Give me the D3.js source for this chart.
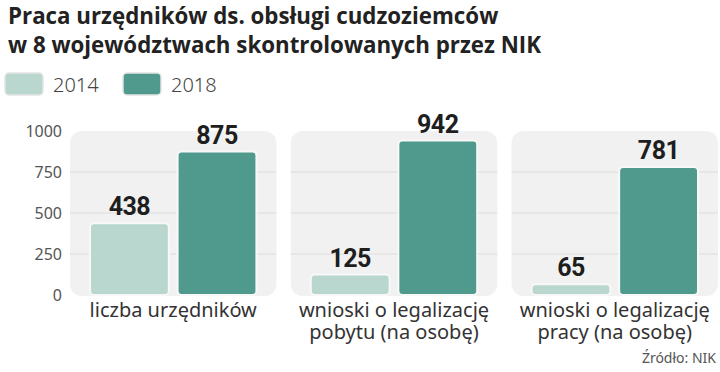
<!DOCTYPE html>
<html lang="pl">
<head>
<meta charset="utf-8">
<title>Praca urzędników</title>
<script src="https://d3js.org/d3.v7.min.js"></script>
<style>
  body { margin: 0; background: #fff; }
  svg { display: block; }
  .title { font-family: "Open Sans", sans-serif; font-weight: 700; font-size: 22.3px; fill: #222; }
  .lab { font-family: "Noto Sans", sans-serif; font-size: 20px; fill: #333; }
  .leg { font-family: "Noto Sans", sans-serif; font-weight: 300; font-size: 20px; fill: #444; }
  .tick { font-family: "Noto Sans", sans-serif; font-size: 16px; fill: #555; }
  .val { font-family: Roboto, sans-serif; font-weight: 700; font-size: 25px; letter-spacing: -0.5px; fill: #1e1e1e; }
</style>
</head>
<body>
<svg id="chart" width="720" height="372"></svg>
<script>
// data
var categories = [["liczba urzędników"], ["wnioski o legalizację", "pobytu (na osobę)"], ["wnioski o legalizację", "pracy (na osobę)"]];
var years = ["2014", "2018"];
var values2014 = [438, 125, 65];
var values2018 = [875, 942, 781];
var yTicks = [0, 250, 500, 750, 1000];
var colors = ["#b9d7cf", "#4f9a8c"];

var svg = d3.select("#chart");

// title
svg.append("text").attr("class", "title").attr("x", 8).attr("y", 24)
  .text("Praca urzędników ds. obsługi cudzoziemców");
svg.append("text").attr("class", "title").attr("x", 8).attr("y", 53)
  .text("w 8 województwach skontrolowanych przez NIK");

// legend
var legX = [5, 123];
years.forEach(function(yr, i) {
  svg.append("rect").attr("x", legX[i]).attr("y", 73).attr("width", 38).attr("height", 22)
    .attr("rx", 4).attr("fill", colors[i]).attr("stroke", "#e4e4e4").attr("stroke-width", 1.5);
  svg.append("text").attr("class", "leg").attr("x", legX[i] + 48).attr("y", 92).text(yr);
});

// scales
var idx = d3.range(categories.length);
var x0 = d3.scaleBand().domain(idx).range([70, 718]).paddingInner(0.065);
var y = d3.scaleLinear().domain([0, 1000]).range([295, 131]);
var x1 = d3.scaleBand().domain(years).range([20, x0.bandwidth() - 20]).paddingInner(0.1);

// y axis labels
svg.selectAll(".tick").data(yTicks).enter().append("text")
  .attr("class", "tick").attr("x", 62).attr("y", function(d) { return y(d) + 6; })
  .attr("text-anchor", "end").text(function(d) { return d; });

var panel = svg.selectAll(".panel").data(idx).enter().append("g")
  .attr("transform", function(d) { return "translate(" + x0(d) + ",0)"; });

panel.append("rect").attr("x", 0).attr("y", y(1000)).attr("width", x0.bandwidth())
  .attr("height", y(0) - y(1000) + 1).attr("rx", 12).attr("fill", "#f1f1f1");

panel.selectAll(".grid").data([250, 500, 750]).enter().append("line")
  .attr("x1", 0).attr("x2", x0.bandwidth())
  .attr("y1", function(d) { return y(d); }).attr("y2", function(d) { return y(d); })
  .attr("stroke", "#dcdcdc").attr("stroke-width", 1);

panel.each(function(c) {
  var g = d3.select(this);
  var vals = [values2014[c], values2018[c]];
  years.forEach(function(yr, i) {
    g.append("rect").attr("x", x1(yr)).attr("y", y(vals[i]))
      .attr("width", x1.bandwidth()).attr("height", y(0) - y(vals[i]))
      .attr("rx", 4).attr("fill", colors[i])
      .attr("stroke", "#f8f8f8").attr("stroke-width", 2);
    g.append("text").attr("class", "val").attr("x", x1(yr) + x1.bandwidth() / 2)
      .attr("y", y(vals[i]) - 8).attr("text-anchor", "middle").text(vals[i]);
  });
  categories[c].forEach(function(line, j) {
    g.append("text").attr("class", "lab").attr("x", x0.bandwidth() / 2)
      .attr("y", 317 + j * 22).attr("text-anchor", "middle").text(line);
  });
});

// source
svg.append("text").attr("x", 716).attr("y", 363).attr("text-anchor", "end")
  .style("font-family", "'Noto Sans', sans-serif").style("font-size", "14px").style("fill", "#555")
  .text("Źródło: NIK");
</script>
</body>
</html>
